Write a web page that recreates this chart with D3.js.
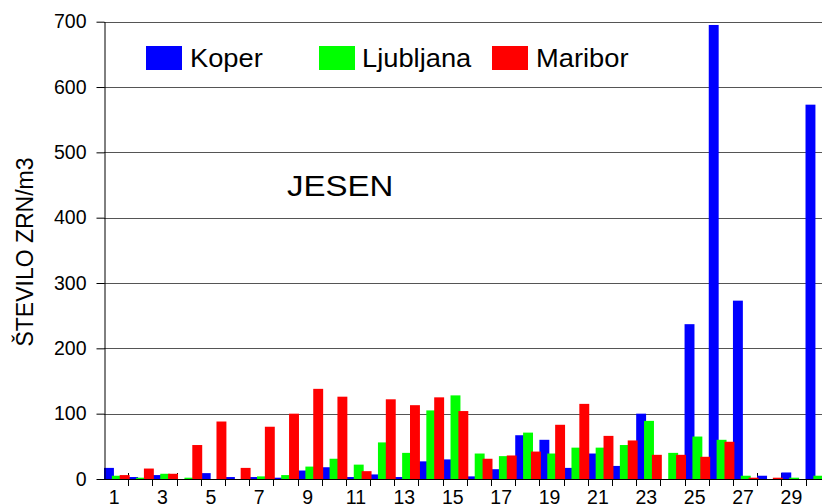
<!DOCTYPE html>
<html>
<head>
<meta charset="utf-8">
<script src="https://cdn.jsdelivr.net/npm/d3@7"></script>
<style>
  html, body { margin: 0; padding: 0; background: #fff; overflow: hidden; }
  svg { display: block; font-family: "Liberation Sans", Arial, Helvetica, sans-serif; }
</style>
</head>
<body>
<svg id="chart" width="822" height="504"></svg>
<script>
// Daily pollen counts (grains per m3) in autumn, by station
const days = d3.range(1, 31);
const koper     = [17, 3, 6, 0, 9, 3, 3, 2, 13, 18, 3, 7, 3, 27, 30, 4, 15, 67, 60, 17, 39, 20, 100, 0, 237, 695, 273, 5, 10, 573];
const ljubljana = [5, 2, 8, 2, 0, 0, 4, 6, 19, 31, 22, 56, 40, 105, 128, 39, 35, 71, 39, 48, 48, 52, 89, 40, 65, 60, 5, 0, 2, 5];
const maribor   = [6, 16, 8, 52, 88, 17, 80, 100, 138, 126, 12, 122, 113, 125, 104, 31, 36, 42, 83, 115, 66, 59, 37, 37, 34, 57, 2, 2, 0, 0];
const yTicks = [0, 100, 200, 300, 400, 500, 600, 700];
const xLabels = days.filter(d => d % 2 === 1);

const series = [
  { name: "Koper",     values: koper,     color: "#0000ff" },
  { name: "Ljubljana", values: ljubljana, color: "#00ff00" },
  { name: "Maribor",   values: maribor,   color: "#ff0000" }
];

const svg = d3.select("#chart");
const left = 104, bandW = 24.19;
const x = d3.scaleBand().domain(days).range([left, left + bandW * days.length]).padding(0);
const y = d3.scaleLinear().domain([0, 700]).range([479, 21.7]);
const right = 822;

// horizontal grid
svg.append("g").selectAll("line").data(yTicks.filter(t => t > 0)).join("line")
  .attr("x1", left).attr("x2", right)
  .attr("y1", d => Math.round(y(d)) + 0.5).attr("y2", d => Math.round(y(d)) + 0.5)
  .attr("stroke", "#555").attr("stroke-width", 1);

// x tick marks (crossing the axis) at category boundaries
svg.append("g").selectAll("line").data(days.slice(1)).join("line")
  .attr("x1", d => Math.round(x(d)) + 0.5).attr("x2", d => Math.round(x(d)) + 0.5)
  .attr("y1", y(0) - 6).attr("y2", y(0) + 7)
  .attr("stroke", "#000").attr("stroke-width", 1);

// bars: three overlapping bars per day
const bw = x.bandwidth();
const barW = bw * 0.41, step = bw * 0.325;
series.forEach((s, i) => {
  svg.append("g").selectAll("rect").data(days).join("rect")
    .attr("x", d => x(d) + i * step)
    .attr("width", barW)
    .attr("y", (d, j) => y(s.values[j]))
    .attr("height", (d, j) => y(0) - y(s.values[j]))
    .attr("fill", s.color);
});

// y axis
const yAxis = svg.append("g").attr("transform", `translate(${left + 0.5},0)`)
  .call(d3.axisLeft(y).tickValues(yTicks).tickSize(8).tickPadding(10).tickSizeOuter(0));
yAxis.select(".domain").attr("stroke", "#000");
yAxis.selectAll(".tick line").attr("stroke", "#000");
yAxis.selectAll(".tick text")
  .attr("font-size", 19.5).attr("fill", "#000")
  .attr("font-family", "'Liberation Sans', Arial, sans-serif");

// x axis baseline
svg.append("line")
  .attr("x1", left).attr("x2", right)
  .attr("y1", y(0) + 0.5).attr("y2", y(0) + 0.5)
  .attr("stroke", "#000").attr("stroke-width", 1);

// x labels on odd days
svg.append("g").selectAll("text").data(xLabels).join("text")
  .attr("x", d => x(d) + bw / 2 - 2)
  .attr("y", 504)
  .attr("text-anchor", "middle")
  .attr("font-size", 19.5)
  .text(d => d);

// y axis title
svg.append("text")
  .attr("transform", "translate(33,252) rotate(-90)")
  .attr("text-anchor", "middle")
  .attr("font-size", 23)
  .text("ŠTEVILO ZRN/m3");

// season label
svg.append("text")
  .attr("transform", "translate(287,196) scale(1.1,1)")
  .attr("font-size", 30)
  .text("JESEN");

// legend
const legendPos = [{ r: 146, t: 190 }, { r: 319, t: 362 }, { r: 492, t: 536 }];
series.forEach((s, i) => {
  svg.append("rect")
    .attr("x", legendPos[i].r).attr("y", 46)
    .attr("width", 36).attr("height", 24)
    .attr("fill", s.color);
  svg.append("text")
    .attr("transform", `translate(${legendPos[i].t},67) scale(1.05,1)`)
    .attr("font-size", 26)
    .text(s.name);
});
</script>
</body>
</html>
